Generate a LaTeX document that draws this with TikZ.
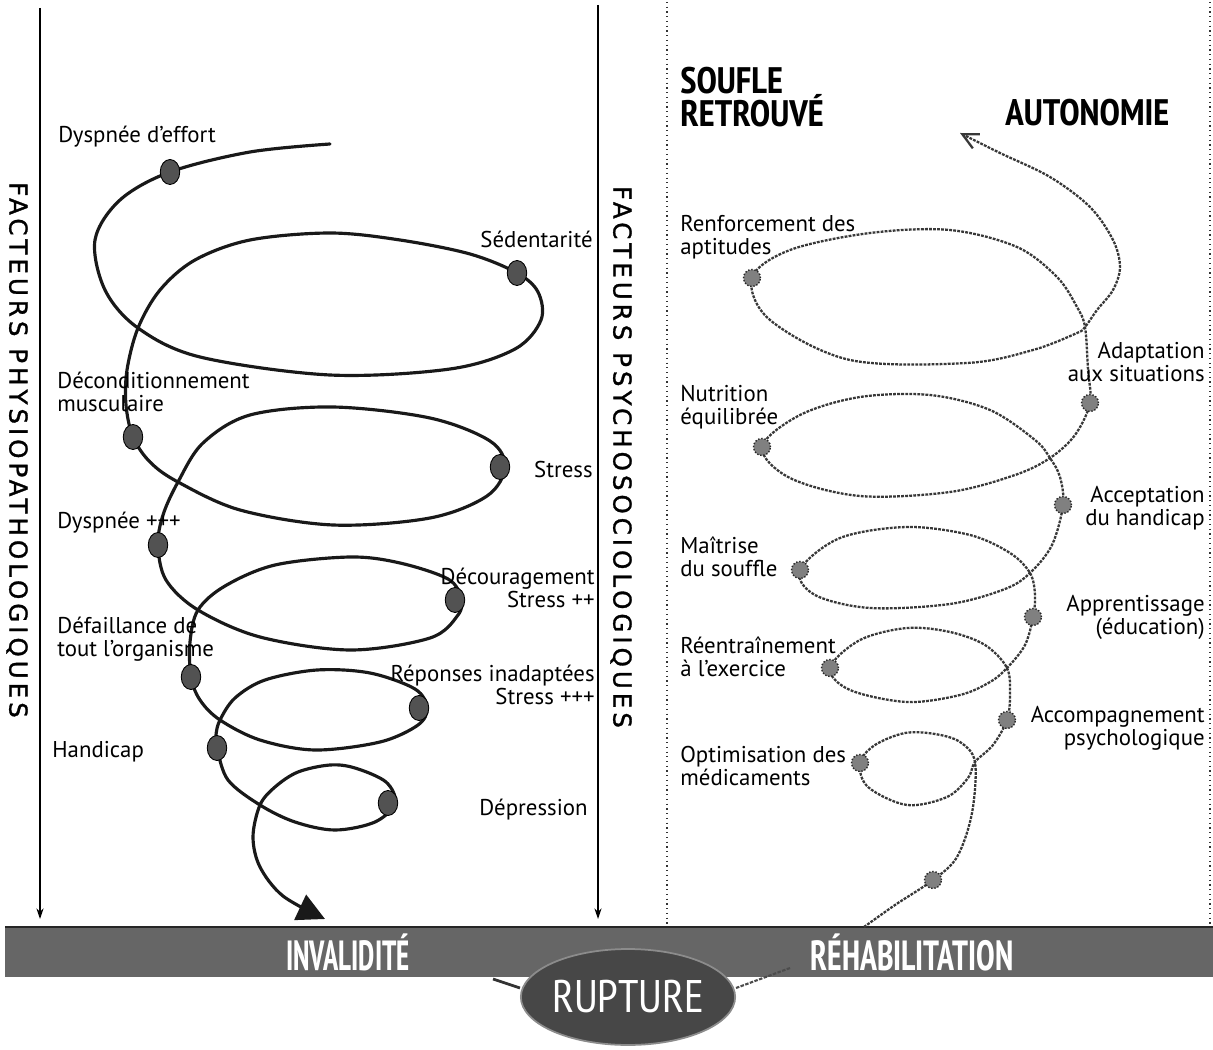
\documentclass[tikz,border=0pt]{standalone}
\usepackage{graphicx}
\usepackage{fontspec}
\setmainfont{PT Sans}
\newfontfamily\narrowfont{PT Sans Narrow}
\newfontfamily\vfont[LetterSpace=16, FakeBold=1.2]{DejaVu Sans}
\usetikzlibrary{arrows.meta,shapes.geometric}

\begin{document}
\begin{tikzpicture}[x=0.02cm,y=-0.02cm,
  lab/.style={font=\fontsize{13}{13.2}\selectfont, inner sep=0pt, align=left},
  labr/.style={lab, align=right},
  title/.style={font=\narrowfont\bfseries\fontsize{21}{19}\selectfont, inner sep=0pt, align=left},
  bartxt/.style={font=\narrowfont\bfseries\fontsize{24}{24}\selectfont, text=white, inner sep=0pt},
  vtxt/.style={font=\vfont\fontsize{14}{14}\selectfont, rotate=-90, inner sep=0pt},
  ldot/.style={ellipse, fill=black!68, draw=black, line width=0.5pt,
    minimum width=0.39cm, minimum height=0.5cm, inner sep=0pt},
  rdot/.style={circle, fill=black!50, draw=black!85, densely dotted, line width=0.8pt,
    minimum size=0.34cm, inner sep=0pt},
  lspiral/.style={line width=1.8pt, black!90, line cap=round},
  rspiral/.style={line width=1.3pt, black!78, dash pattern=on 1.6pt off 0.7pt},
  axis/.style={line width=0.8pt, -{Stealth[length=6pt,width=4pt]}},
  guide/.style={line width=0.7pt, dotted, black!80}]

\useasboundingbox (0,0) rectangle (1213,1050);

% ---- vertical axes -------------------------------------------------
\coordinate (ax1t) at (40,8);   \coordinate (ax1b) at (40,919);
\coordinate (ax2t) at (598,5);  \coordinate (ax2b) at (598,919);
\coordinate (g1t) at (667,2);   \coordinate (g1b) at (667,925);
\coordinate (g2t) at (1210,2);  \coordinate (g2b) at (1210,925);
\draw[axis] (ax1t) -- (ax1b);
\draw[axis] (ax2t) -- (ax2b);
\draw[guide] (g1t) -- (g1b);
\draw[guide] (g2t) -- (g2b);

\node[vtxt] (vleft) at (17,450) {FACTEURS PHYSIOPATHOLOGIQUES};
\node[vtxt] (vright) at (621,457) {FACTEURS PSYCHOSOCIOLOGIQUES};

% ---- bottom band ---------------------------------------------------
\fill[black!60] (5,927) rectangle (1213,977);
\draw[line width=1pt, black!85] (5,927) -- (1213,927);
\node[bartxt] (inval) at (348,952) {\scalebox{0.72}[1]{INVALIDITÉ}};
\node[bartxt] (rehab) at (912,952) {\scalebox{0.8}[1]{RÉHABILITATION}};

\coordinate (cl) at (493,979);
\coordinate (cr) at (790,968);
\node[ellipse, fill=black!72, draw=black!45, line width=1pt,
      minimum width=4.2cm, minimum height=1.92cm, inner sep=0pt,
      text=white, font=\narrowfont\fontsize{26}{26}\selectfont] (rupt) at (628,997) {RUPTURE};
\draw[line width=1.6pt, black!80] (cl) -- (rupt.west |- 0,988);
\draw[line width=1.2pt, black!70, dash pattern=on 2pt off 0.8pt] (cr) -- (rupt.east |- 0,988);

% ---- left spiral (descending) --------------------------------------
\coordinate (lstart) at (330,144);
\coordinate (ltip) at (325,919);
\draw[lspiral, -{Triangle[length=0.55cm,width=0.55cm]}] plot[smooth, tension=0.55] coordinates {
  (lstart) (250,152) (170,172) (120,200) (95,240) (105,290) (138,328)
  (200,357) (330,375) (450,369) (515,349) (541,320) (538,292) (517,273)
  (470,254) (400,240) (330,233) (250,240) (195,260) (160,290) (138,328) (127,370) (126,405) (133,437)
  (150,462) (178,482) (240,510) (333,525) (430,518) (487,496) (505,467) (490,441)
  (430,418) (333,407) (250,415) (203,443) (178,482) (163,515) (158,545)
  (166,580) (198,610) (260,637) (350,650) (430,638) (458,615) (461,598) (448,579)
  (400,563) (350,557) (275,565) (225,586) (198,610) (190,642) (191,677)
  (200,700) (220,720) (260,740) (315,750) (380,742) (418,725) (427,708) (415,689)
  (370,673) (317,670) (265,680) (235,698) (220,720) (216,735) (217,748)
  (228,780) (260,805) (295,822) (335,830) (375,822) (395,803) (386,782)
  (355,768) (330,765) (298,772) (275,787) (260,805) (253,837) (260,867) (283,896) (ltip)};
\node[ldot] (a1) at (170,172) {};
\node[ldot] (a2) at (517,273) {};
\node[ldot] (a3) at (133,437) {};
\node[ldot] (a4) at (500,467) {};
\node[ldot] (a5) at (158,545) {};
\node[ldot] (a6) at (455,600) {};
\node[ldot] (a7) at (191,677) {};
\node[ldot] (a8) at (419,708) {};
\node[ldot] (a9) at (217,748) {};
\node[ldot] (a10) at (388,803) {};

\node[lab, anchor=west] (t1) at (58,137) {Dyspnée d'effort};
\node[labr, anchor=east] (t2) at (593,239) {Sédentarité};
\node[lab, anchor=west] (t3) at (57,392) {Déconditionnement\\musculaire};
\node[labr, anchor=east] (t4) at (593,470) {Stress};
\node[lab, anchor=west] (t5) at (57,523) {Dyspnée +++};
\node[labr, anchor=east] (t6) at (595,588) {Découragement\\Stress ++};
\node[lab, anchor=west] (t7) at (57,639) {Défaillance de\\tout l'organisme};
\node[labr, anchor=east] (t8) at (595,685) {Réponses inadaptées\\Stress +++};
\node[lab, anchor=west] (t9) at (52,752) {Handicap};
\node[labr, anchor=east] (t10) at (588,810) {Dépression};

% ---- right spiral (ascending) --------------------------------------
\coordinate (rstart) at (864,927);
\coordinate (rtip) at (960,133);
\draw[rspiral, -{Straight Barb[length=9pt,width=9pt]}] plot[smooth, tension=0.55] coordinates {
  (rstart) (895,905) (933,880) (957,857) (972,813) (975,762) (960,742) (935,734)
  (905,733) (875,745) (860,763) (868,787) (907,805) (947,797) (968,778) (975,762)
  (993,745) (1007,720) (1010,695) (1007,668) (985,645) (950,632) (907,628)
  (860,640) (830,668) (850,690) (907,702) (960,695) (990,682) (1007,668)
  (1025,645) (1033,617) (1035,595) (1030,573) (1010,553) (970,535) (907,527)
  (840,538) (800,570) (815,595) (870,608) (950,604) (1005,589) (1030,573)
  (1052,545) (1063,505) (1060,477) (1050,458) (1035,440) (990,410) (930,395)
  (860,397) (800,415) (762,447) (790,478) (860,496) (950,492) (1015,475)
  (1050,458) (1075,435) (1090,403) (1088,370) (1085,327) (1077,307) (1057,277)
  (1017,247) (950,230) (870,233) (790,250) (752,278) (770,320) (850,360)
  (967,363) (1033,350) (1077,333) (1085,327) (1097,310) (1113,290) (1120,267)
  (1113,240) (1090,207) (1050,177) (1000,153) (rtip)};
\node[rdot] (b1) at (933,880) {};
\node[rdot] (b2) at (860,763) {};
\node[rdot] (b3) at (1007,720) {};
\node[rdot] (b4) at (830,668) {};
\node[rdot] (b5) at (1033,617) {};
\node[rdot] (b6) at (800,570) {};
\node[rdot] (b7) at (1063,505) {};
\node[rdot] (b8) at (762,447) {};
\node[rdot] (b9) at (1090,403) {};
\node[rdot] (b10) at (752,278) {};

\node[title, anchor=west] (s1) at (680,97) {SOUFLE\\RETROUVÉ};
\node[title, anchor=west] (s2) at (1005,113) {AUTONOMIE};

\node[lab, anchor=west] (u1) at (680,237) {Renforcement des\\aptitudes};
\node[labr, anchor=east] (u2) at (1205,362) {Adaptation\\aux situations};
\node[lab, anchor=west] (u3) at (680,407) {Nutrition\\équilibrée};
\node[labr, anchor=east] (u4) at (1205,508) {Acceptation\\du handicap};
\node[lab, anchor=west] (u5) at (680,557) {Maîtrise\\du souffle};
\node[labr, anchor=east] (u6) at (1205,617) {Apprentissage\\(éducation)};
\node[lab, anchor=west] (u7) at (680,657) {Réentraînement\\à l'exercice};
\node[labr, anchor=east] (u8) at (1205,728) {Accompagnement\\psychologique};
\node[lab, anchor=west] (u9) at (680,766) {Optimisation des\\médicaments};

\end{tikzpicture}
\end{document}
